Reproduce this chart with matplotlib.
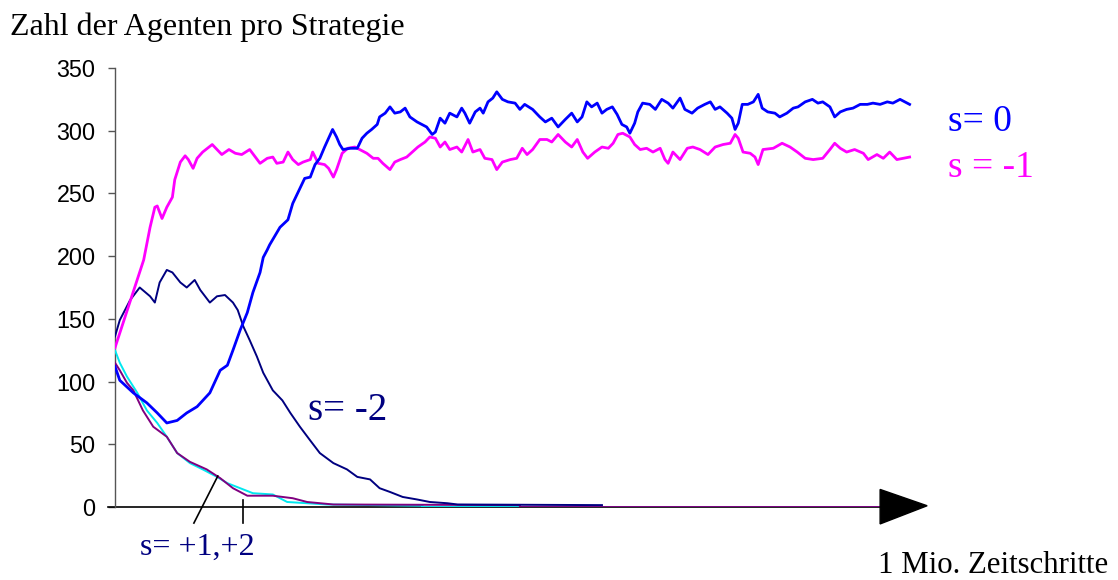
import matplotlib
matplotlib.use("Agg")
import matplotlib.pyplot as plt
from matplotlib.patches import Polygon

# Time axis in thousands of steps (0 .. 1 Mio.)
t_s_minus1 = [0, 36, 44, 50, 53, 59, 65, 72, 75, 82, 88, 92, 98, 103, 110, 122, 128, 134, 143,
              151, 159, 169, 176, 182, 191, 198, 203, 211, 217, 223, 230, 236, 245, 248, 255,
              263, 268, 274, 278, 285, 292, 301, 307, 316, 324, 330, 336, 345, 351, 358, 366,
              373, 380, 389, 395, 402, 408, 414, 420, 429, 435, 443, 449, 458, 464, 473, 479,
              486, 496, 504, 511, 517, 524, 533, 542, 548, 556, 565, 573, 580, 587, 593, 602,
              611, 619, 625, 631, 637, 646, 652, 659, 667, 675, 684, 690, 694, 700, 709, 718,
              725, 734, 744, 753, 763, 772, 778, 782, 788, 797, 803, 807, 813, 826, 837, 847,
              856, 866, 876, 888, 897, 903, 910, 918, 928, 939, 945, 956, 964, 972, 981, 989,
              997]
n_s_minus1 = [127, 197, 223, 239, 240, 230, 239, 247, 261, 275, 280, 277, 270, 278, 283, 289,
              285, 281, 285, 282, 281, 285, 279, 274, 278, 279, 274, 275, 283, 277, 273, 275,
              277, 283, 274, 273, 270, 263, 269, 282, 286, 287, 285, 282, 278, 278, 274, 269,
              275, 277, 279, 283, 287, 291, 295, 294, 287, 291, 285, 287, 283, 293, 283, 285,
              278, 277, 269, 275, 277, 278, 286, 281, 285, 293, 293, 291, 297, 291, 287, 293,
              283, 278, 283, 287, 286, 290, 297, 298, 295, 289, 285, 286, 283, 286, 277, 274,
              283, 277, 286, 287, 285, 281, 287, 289, 290, 297, 294, 283, 282, 279, 273, 285,
              286, 290, 287, 283, 278, 277, 278, 285, 290, 286, 283, 285, 282, 277, 281, 278,
              283, 277, 278, 279]

t_s0 = [0, 6, 23, 40, 53, 65, 78, 90, 103, 119, 132, 141, 148, 157, 166, 173, 182, 186, 191,
        194, 207, 217, 223, 232, 238, 245, 251, 257, 263, 268, 273, 278, 282, 286, 295, 304,
        310, 316, 322, 329, 332, 339, 345, 351, 358, 364, 370, 379, 385, 391, 398, 402, 408,
        414, 420, 429, 435, 439, 445, 452, 458, 462, 468, 474, 479, 486, 493, 502, 508, 514,
        524, 533, 540, 548, 556, 565, 573, 580, 586, 592, 598, 605, 611, 617, 624, 630, 636,
        642, 646, 652, 656, 662, 671, 678, 686, 694, 700, 709, 715, 724, 731, 740, 747, 753,
        759, 768, 774, 778, 782, 787, 794, 801, 807, 812, 819, 828, 834, 843, 851, 857, 866,
        875, 882, 888, 897, 903, 910, 918, 926, 935, 944, 951, 960, 969, 976, 985, 991, 997]
n_s0 = [112, 101, 91, 83, 75, 67, 69, 75, 80, 91, 109, 113, 125, 141, 155, 171, 187, 199, 205,
        209, 223, 229, 242, 254, 262, 263, 273, 278, 287, 294, 301, 295, 289, 285, 286, 286,
        294, 298, 301, 305, 311, 314, 319, 314, 315, 318, 311, 307, 305, 303, 297, 299, 310,
        306, 314, 311, 318, 314, 306, 315, 318, 314, 323, 326, 331, 325, 323, 322, 317, 321,
        317, 311, 307, 310, 303, 309, 314, 307, 311, 323, 319, 322, 314, 317, 319, 313, 305,
        303, 298, 306, 315, 322, 321, 317, 325, 322, 318, 326, 317, 314, 318, 321, 323, 317,
        319, 314, 310, 301, 306, 321, 321, 323, 329, 318, 315, 314, 311, 314, 318, 319, 323,
        325, 322, 323, 319, 311, 315, 317, 318, 321, 321, 322, 321, 323, 322, 325, 323, 321]

t_s_minus2 = [0, 6, 19, 31, 44, 50, 56, 65, 72, 82, 90, 100, 107, 119, 128, 138, 148, 154, 161,
              169, 178, 186, 198, 210, 220, 232, 245, 257, 274, 291, 304, 320, 332, 345, 361,
              379, 395, 417, 430, 611]
n_s_minus2 = [136, 149, 165, 175, 168, 163, 179, 189, 187, 179, 175, 181, 173, 163, 168, 169,
              163, 157, 144, 133, 120, 107, 93, 85, 75, 64, 53, 43, 35, 30, 24, 22, 15, 12, 8,
              6, 4, 3, 2, 1.5]

t_s_plus1 = [0, 6, 15, 28, 40, 53, 65, 78, 94, 110, 128, 141, 157, 173, 198, 216, 241, 266,
             386, 386, 960]
n_s_plus1 = [125, 115, 104, 91, 77, 67, 56, 43, 35, 30, 24, 19, 15, 11, 10, 4, 3, 2, 1, 0, 0]

t_s_plus2 = [0, 6, 15, 23, 35, 48, 65, 78, 94, 115, 132, 148, 166, 198, 223, 241, 274, 508,
             508, 960]
n_s_plus2 = [115, 109, 99, 93, 77, 64, 56, 43, 36, 30, 23, 15, 9, 9, 7, 4, 2, 1.5, 0, 0]

y_ticks = [0, 50, 100, 150, 200, 250, 300, 350]

W, H = 1118, 580
fig = plt.figure(figsize=(W / 100, H / 100), dpi=100)
ax = fig.add_axes([115 / W, (H - 507) / H, (912 - 115) / W, (507 - 68) / H])
ax.set_xlim(0, 1000)
ax.set_ylim(0, 350)

serif = "Liberation Serif"
sans = "Liberation Sans"

# Series
ax.plot(t_s_plus1, n_s_plus1, color="#00e8f0", lw=1.4, zorder=3)
ax.plot(t_s_plus2, n_s_plus2, color="#800080", lw=1.4, zorder=4)
ax.plot(t_s_minus2, n_s_minus2, color="#000080", lw=1.4, zorder=4)
ax.plot(t_s0, n_s0, color="#0000ff", lw=2.0, zorder=5)
ax.plot(t_s_minus1, n_s_minus1, color="#ff00ff", lw=2.0, zorder=4)

# Axes styling
for side in ("top", "right", "bottom"):
    ax.spines[side].set_visible(False)
ax.spines["left"].set_color("#555555")
ax.spines["left"].set_linewidth(1.0)
ax.set_yticks(y_ticks)
ax.set_xticks([])
ax.tick_params(axis="y", direction="out", length=5, width=1.0, color="#555555",
               pad=9, labelsize=16.8)
for lbl in ax.get_yticklabels():
    lbl.set_fontfamily(sans)

# Time axis with arrow head
ax.plot([-9, 960], [0, 0], color="black", lw=1.2, clip_on=False, zorder=2)
ax.add_patch(Polygon([[960, 14], [960, -13.5], [1019, 1]], closed=True,
                     facecolor="black", edgecolor="black", clip_on=False, zorder=6))

# Leader lines for s = +1, +2
ax.plot([99, 129], [-12.8, 24.7], color="black", lw=1.2, clip_on=False, zorder=6)
ax.plot([161, 161], [5.6, -12.8], color="black", lw=1.2, clip_on=False, zorder=6)


def ftext(x, y, s, **kw):
    fig.text(x / W, 1 - y / H, s, va="baseline", ha="left", family=serif, **kw)


ftext(10, 35, "Zahl der Agenten pro Strategie", fontsize=23, color="black")
ftext(948, 131, "s= 0", fontsize=27, color="#0000ff")
ftext(948, 177, "s = -1", fontsize=27, color="#ff00ff")
ftext(308, 420, "s= -2", fontsize=28, color="#000080")
ftext(140, 555, "s= +1,+2", fontsize=23, color="#000080")
ftext(878, 573, "1 Mio. Zeitschritte", fontsize=22.2, color="black")

fig.savefig("out.png", dpi=100)
